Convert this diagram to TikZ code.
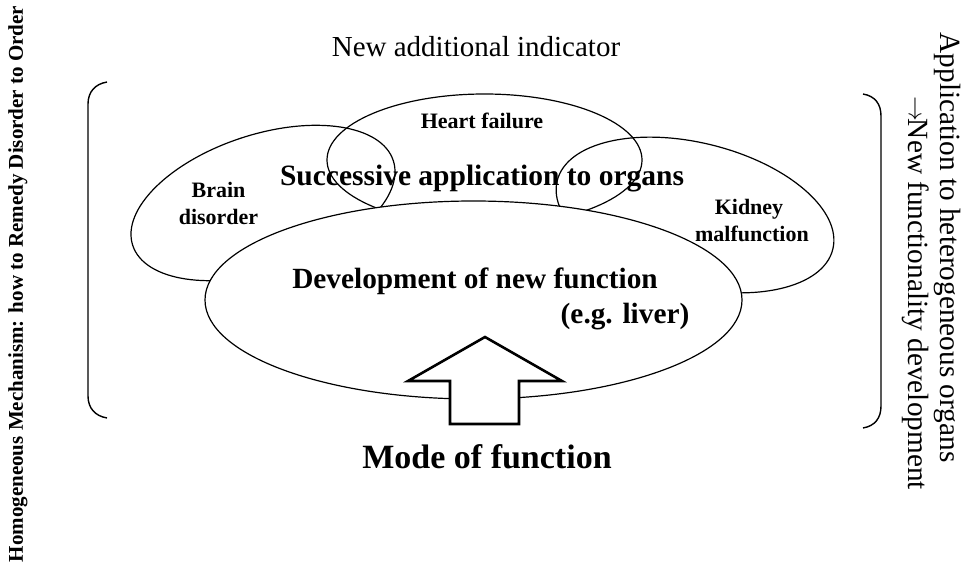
\documentclass[tikz,border=0pt]{standalone}
\usepackage{fontspec}
\setmainfont{Liberation Serif}
\usetikzlibrary{shapes.geometric,positioning}

\begin{document}
\begin{tikzpicture}[x=1pt, y=1pt,
    organ/.style={draw, ellipse, line width=1.2pt, inner sep=0pt},
    small/.style={font=\bfseries\fontsize{22}{26}\selectfont, anchor=base, inner sep=0pt},
    big/.style={font=\bfseries\fontsize{29.5}{34}\selectfont, anchor=base, inner sep=0pt},
    side/.style={font=\fontsize{29.3}{34}\selectfont, inner sep=0pt}]
      \useasboundingbox (0,0) rectangle (962,574);

      % organ ellipses
      \node[organ, minimum width=274, minimum height=137, rotate=18] (brain) at (263,371) {};
      \node[organ, minimum width=284, minimum height=144, rotate=-14] (kidney) at (695,359) {};
      \node[organ, minimum width=315, minimum height=132] (heart) at (484.5,414) {};
      \node[organ, fill=white, minimum width=537, minimum height=198] (liver) at (473.5,274) {};

      \node[small] (heartlbl) at (482,445) {Heart failure};
      \node[big] (succ) at (482,388) {Successive application to organs};
      \node[small] (brainlbl) at (218.5,376) {Brain};
      \node[small] (brainlbl2) at ([yshift=-27pt]brainlbl.base) {disorder};
      \node[small] (kidneylbl) at (749,359) {Kidney};
      \node[small] (kidneylbl2) at ([yshift=-27pt, xshift=3pt]kidneylbl.base) {malfunction};
      \node[big, font=\bfseries\fontsize{29.3}{34}\selectfont] (devel) at (475,285) {Development of new function};
      \node[big, font=\bfseries\fontsize{29.3}{34}\selectfont] (eg) at (625,251) {(e.g. liver)};

      % block arrow
      \node[big, font=\bfseries\fontsize{34}{40}\selectfont] (mode) at (487,106) {Mode of function};
      \coordinate (foot) at (484.5,150);
      \draw[line width=2.6pt, fill=white] (foot) ++(-34.5,0) -- ++(0,43) -- ++(-42,0)
        -- (485,237) -- (562,193) -- ++(-43,0) -- ++(0,-43) -- cycle;

      % texts round it
      \node[font=\fontsize{29}{34}\selectfont, anchor=base] (indicator) at (476,517) {New additional indicator};
      \node[font=\bfseries\fontsize{21}{25}\selectfont, rotate=90, inner sep=0pt] (title) at (18,290)
        {Homogeneous Mechanism: how to Remedy Disorder to Order};
      \node[side, rotate=-90] (appl) at (947,326.5) {Application to heterogeneous organs};
      \node[side, rotate=-90] (newfn) at (916,281) {$\rightarrow$\kern-2pt New functionality development};

      % brackets
      \draw[line width=1.4pt] (107,492) .. controls (95,490) and (88,482) .. (88,470) -- (88,178)
        .. controls (88,166) and (95,158) .. (107,156);
      \draw[line width=1.4pt] (863,480) .. controls (875,478) and (881,470) .. (881,458) -- (881,168)
        .. controls (881,156) and (875,148) .. (863,146);

\end{tikzpicture}
\end{document}
